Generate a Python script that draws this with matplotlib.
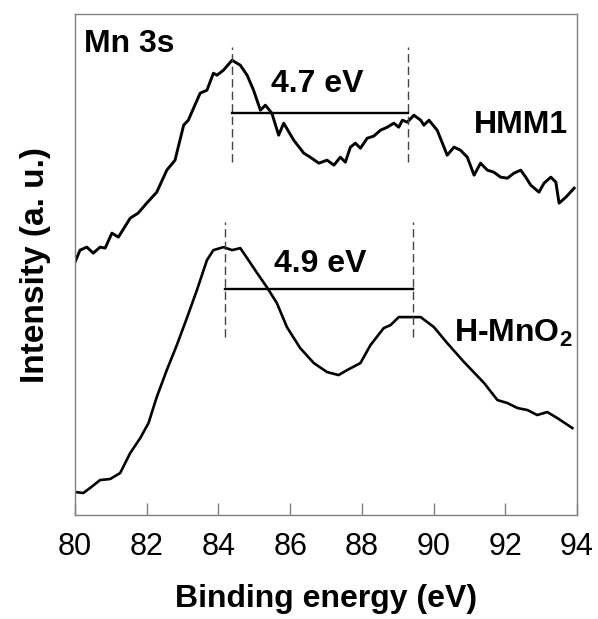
import numpy as np
import matplotlib
matplotlib.use("Agg")
import matplotlib.pyplot as plt

plt.rcParams['font.family'] = ['Liberation Sans', 'DejaVu Sans']
plt.rcParams['mathtext.fontset'] = 'custom'
plt.rcParams['mathtext.rm'] = 'Liberation Sans'
plt.rcParams['mathtext.bf'] = 'Liberation Sans:bold'

# HMM1 (upper trace), binding energy in eV / intensity in a.u.
hmm1_x = [80.00, 80.14, 80.33, 80.51, 80.70, 80.84, 81.03, 81.21, 81.54, 81.76,
          82.00, 82.28, 82.56, 82.79, 83.03, 83.16, 83.49, 83.68, 83.86, 83.96,
          84.14, 84.38, 84.61, 84.80, 84.98, 85.17, 85.31, 85.49, 85.68, 85.82,
          86.10, 86.38, 86.56, 86.80, 87.03, 87.22, 87.40, 87.54, 87.68, 87.82,
          87.96, 88.15, 88.33, 88.52, 88.71, 88.89, 89.03, 89.13, 89.27, 89.45,
          89.64, 89.73, 89.87, 90.10, 90.38, 90.57, 90.75, 90.94, 91.13, 91.31,
          91.50, 91.68, 91.87, 92.06, 92.24, 92.43, 92.57, 92.71, 92.94, 93.08,
          93.27, 93.41, 93.50, 93.69, 93.92]
hmm1_y = [253, 265, 268, 262, 268, 267, 282, 278, 297, 302,
          312, 323, 345, 355, 390, 395, 422, 425, 442, 440,
          445, 455, 450, 440, 425, 405, 410, 402, 380, 392,
          375, 362, 358, 352, 355, 350, 358, 353, 368, 372,
          367, 377, 379, 385, 388, 392, 388, 395, 393, 400,
          395, 390, 395, 385, 360, 368, 365, 358, 340, 352,
          345, 343, 338, 337, 342, 345, 338, 330, 323, 332,
          338, 333, 312, 318, 327]

# H-MnO2 (lower trace)
mno2_x = [80.00, 80.23, 80.42, 80.70, 80.98, 81.26, 81.54, 81.82, 82.05, 82.28,
          82.56, 82.84, 83.12, 83.40, 83.68, 83.86, 84.14, 84.38, 84.61, 84.80,
          85.08, 85.35, 85.63, 85.91, 86.28, 86.66, 87.03, 87.35, 87.59, 87.96,
          88.24, 88.61, 88.80, 89.03, 89.36, 89.64, 90.01, 90.38, 90.85, 91.41,
          91.78, 92.06, 92.34, 92.62, 92.89, 93.17, 93.45, 93.87]
mno2_y = [23, 22, 27, 35, 36, 42, 62, 77, 92, 118,
          145, 170, 197, 225, 255, 265, 268, 265, 267, 257,
          242, 228, 212, 188, 167, 152, 143, 140, 145, 152,
          170, 187, 190, 198, 198, 198, 188, 172, 153, 132,
          115, 112, 107, 105, 100, 103, 97, 87]

# peak markers: (peak1, peak2, dash bottom, dash top, bar level)
hmm1_peaks = [84.38, 89.30]
hmm1_dash = [353, 468]
hmm1_bar = 402
mno2_peaks = [84.17, 89.42]
mno2_dash = [178, 293]
mno2_bar = 226

xticks = [80, 82, 84, 86, 88, 90, 92, 94]

fig = plt.figure(figsize=(5.98, 6.19), dpi=100)
ax = fig.add_axes([0.1254, 0.168, 0.8395, 0.809])

ax.plot(hmm1_x, hmm1_y, color='black', lw=2.1, solid_joinstyle='round')
ax.plot(mno2_x, mno2_y, color='black', lw=1.9, solid_joinstyle='round')

for px in hmm1_peaks:
    ax.plot([px, px], hmm1_dash, color='#444444', lw=1.0, ls=(0, (6, 3)))
ax.plot(hmm1_peaks, [hmm1_bar, hmm1_bar], color='black', lw=1.7)
for px in mno2_peaks:
    ax.plot([px, px], mno2_dash, color='#444444', lw=1.0, ls=(0, (6, 3)))
ax.plot(mno2_peaks, [mno2_bar, mno2_bar], color='black', lw=1.7)

ax.text(80.25, 463, 'Mn 3s', fontsize=23, fontweight='bold', va='baseline', ha='left')
ax.text(86.75, 423, '4.7 eV', fontsize=23, fontweight='bold', va='baseline', ha='center')
ax.text(86.85, 243, '4.9 eV', fontsize=23, fontweight='bold', va='baseline', ha='center')
ax.text(93.74, 382, 'HMM1', fontsize=23, fontweight='bold', va='baseline', ha='right')
ax.text(93.88, 173, r'H-MnO$_\mathbf{2}$', fontsize=23, fontweight='bold', va='baseline', ha='right')

ax.set_xlim(80, 94)
ax.set_ylim(0, 501)
ax.set_xticks(xticks)
ax.set_yticks([])
ax.tick_params(axis='x', direction='in', length=8.5, width=1, color='#808080',
               labelsize=22, pad=12)
for sp in ax.spines.values():
    sp.set_color('#808080')
    sp.set_linewidth(1)

ax.set_xlabel('Binding energy (eV)', fontsize=23, fontweight='bold', labelpad=16)
ax.set_ylabel('Intensity (a. u.)', fontsize=24, fontweight='bold', labelpad=17)

fig.savefig('out.png', dpi=100)
